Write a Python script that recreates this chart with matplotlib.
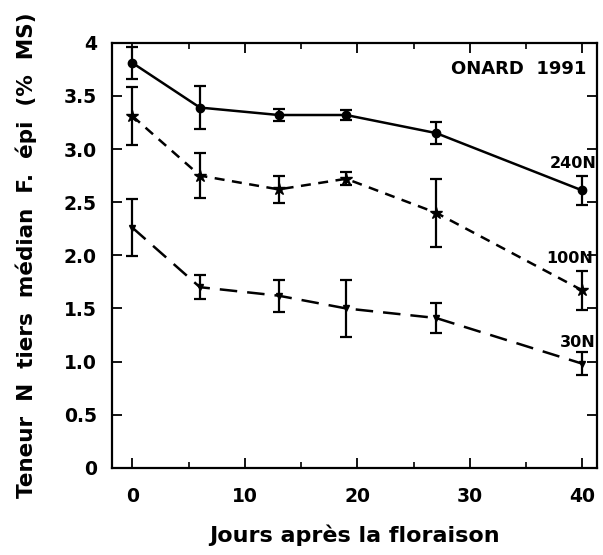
import matplotlib.pyplot as plt

# Jours après la floraison
jours = [0, 6, 13, 19, 27, 40]

# Teneur en N (% MS) et écarts pour chaque dose d'azote
n240 = [3.81, 3.39, 3.32, 3.32, 3.15, 2.61]
n240_err = [0.15, 0.20, 0.06, 0.05, 0.10, 0.14]
n100 = [3.31, 2.75, 2.62, 2.72, 2.40, 1.67]
n100_err = [0.27, 0.21, 0.13, 0.06, 0.32, 0.18]
n30 = [2.26, 1.70, 1.62, 1.50, 1.41, 0.98]
n30_err = [0.27, 0.11, 0.15, 0.27, 0.14, 0.11]

yticks = [0, 0.5, 1.0, 1.5, 2.0, 2.5, 3.0, 3.5, 4]
ytick_labels = ["0", "0.5", "1.0", "1.5", "2.0", "2.5", "3.0", "3.5", "4"]

plt.rcParams["font.family"] = ["DejaVu Sans"]
plt.rcParams["font.weight"] = "bold"

fig = plt.figure(figsize=(6.03, 5.55), dpi=100)
ax = fig.add_axes([0.186, 0.157, 0.804, 0.766])

errStyle = dict(color="black", ecolor="black", elinewidth=1.6, capsize=4, capthick=1.6)
ax.errorbar(jours, n240, yerr=n240_err, fmt="-o", lw=1.8, ms=6, **errStyle)
ax.errorbar(jours, n100, yerr=n100_err, fmt="--*", lw=1.8, ms=9, dashes=(4, 3), **errStyle)
ax.errorbar(jours, n30, yerr=n30_err, fmt="--v", lw=1.8, ms=5, dashes=(7, 4), **errStyle)

ax.text(39.2, 2.79, "240N", ha="center", va="bottom", fontsize=11.5, fontweight="bold")
ax.text(38.85, 1.90, "100N", ha="center", va="bottom", fontsize=11.5, fontweight="bold")
ax.text(39.6, 1.11, "30N", ha="center", va="bottom", fontsize=11.5, fontweight="bold")
ax.text(40.35, 3.75, "ONARD  1991", ha="right", va="center", fontsize=13, fontweight="bold")

ax.set_xlim(-1.8, 41.3)
ax.set_ylim(0, 4)
ax.set_xticks([0, 10, 20, 30, 40])
ax.set_xticks([5, 15, 25, 35], minor=True)
ax.set_yticks(yticks)
ax.set_yticklabels(ytick_labels)

ax.tick_params(axis="both", which="major", direction="in", length=7, width=1.3,
               top=True, right=True, labelsize=13.5)
ax.tick_params(axis="y", which="major", pad=11)
ax.tick_params(axis="x", which="major", pad=14)
ax.tick_params(axis="x", which="minor", direction="in", length=4, width=1.2, top=True)
for s in ax.spines.values():
    s.set_linewidth(1.6)

ax.set_xlabel("Jours après la floraison", fontsize=16, fontweight="bold", labelpad=13)
ax.set_ylabel("Teneur  N  tiers  médian  F.  épi  (%  MS)", fontsize=15.5,
              fontweight="bold", labelpad=19)

fig.savefig("out.png", dpi=100)
